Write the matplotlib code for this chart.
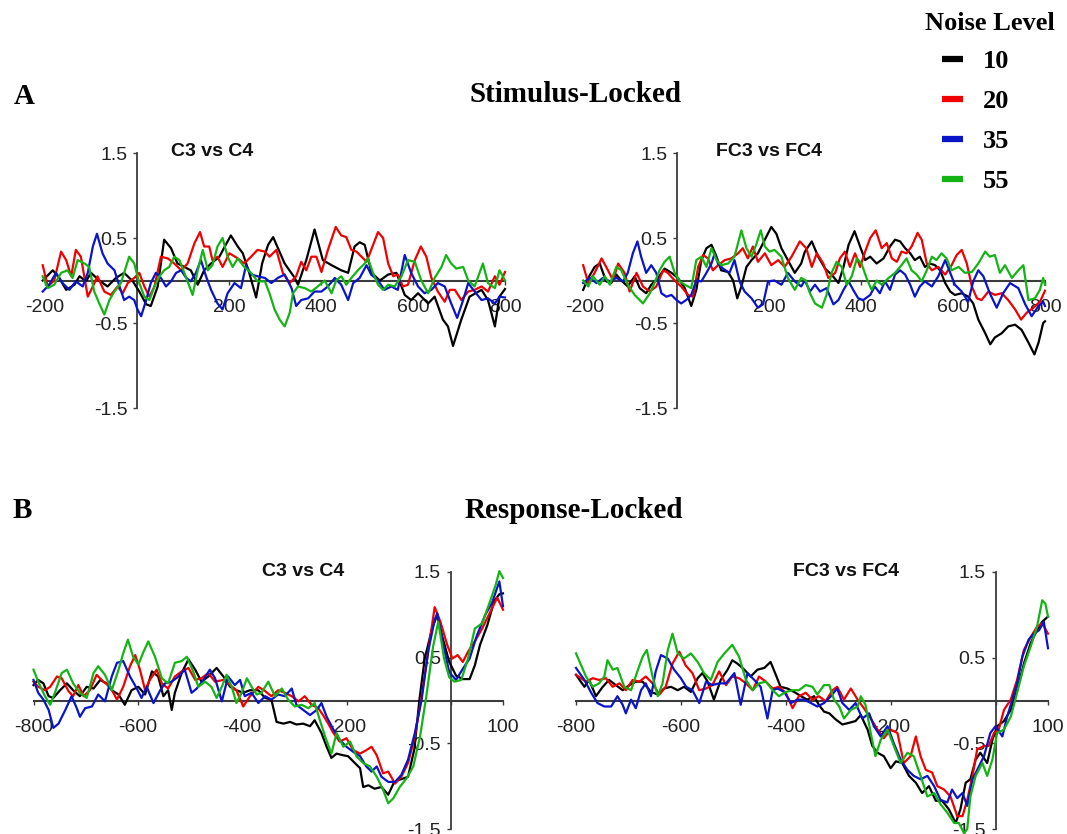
import matplotlib
matplotlib.use("Agg")
import matplotlib.pyplot as plt
from matplotlib.lines import Line2D

plt.rcParams["font.family"] = ["Liberation Sans", "DejaVu Sans"]

levels = ["10", "20", "35", "55"]
colors = ["#000000", "#f00000", "#0a14c8", "#14b414"]

stim_ticks = [-200, 0, 200, 400, 600, 800]
stim_labels = ["-200", "", "200", "400", "600", "800"]
resp_ticks = [-800, -600, -400, -200, 0, 100]
resp_labels = ["-800", "-600", "-400", "-200", "", "100"]
y_ticks = [-1.5, -0.5, 0.5, 1.5]
y_labels = ["-1.5", "-0.5", "0.5", "1.5"]

# ---- A: stimulus-locked, C3 vs C4 (ms, uV) ----
stim_c3_t10 = [-205, -183, -169, -154, -136, -125, -111, -100, -82, -64, -46, -28, -9, 5, 20, 30, 45, 59, 74, 88,
               103, 117, 132, 146, 161, 179, 204, 219, 230, 244, 259, 272, 285, 296, 321, 343, 350, 368, 386, 404,
               423, 444, 459, 473, 484, 495, 510, 528, 546, 564, 582, 596, 611, 633, 647, 665, 676, 687, 705, 723,
               749, 763, 778, 788, 800]
stim_c3_v10 = [0.0, 0.12, 0.03, -0.11, -0.05, 0.05, -0.01, 0.09, 0.0, -0.07, 0.03, 0.09, -0.01, -0.13, -0.28, -0.3,
               -0.07, 0.48, 0.38, 0.2, 0.16, 0.12, -0.05, 0.12, 0.2, 0.28, 0.53, 0.4, 0.32, 0.09, -0.2, 0.2, 0.42,
               0.51, 0.2, 0.03, -0.05, 0.24, 0.6, 0.24, 0.18, 0.12, 0.09, 0.4, 0.45, 0.42, 0.09, 0.0, 0.07, 0.09,
               -0.17, -0.23, -0.15, -0.27, -0.19, -0.46, -0.54, -0.77, -0.46, -0.19, -0.11, -0.23, -0.54, -0.19, -0.1]
stim_c3_t20 = [-205, -194, -180, -165, -154, -143, -133, -122, -107, -96, -86, -71, -57, -42, -31, -20, -6, 5, 16, 27,
               38, 52, 67, 81, 96, 110, 125, 137, 146, 157, 164, 175, 186, 201, 219, 233, 248, 262, 278, 288, 303,
               317, 332, 346, 357, 368, 379, 390, 401, 415, 432, 444, 455, 466, 477, 488, 499, 509, 524, 535, 546,
               557, 567, 578, 589, 604, 617, 629, 640, 654, 669, 680, 691, 705, 720, 734, 749, 763, 778, 788, 800]
stim_c3_v20 = [0.18, -0.07, 0.0, 0.34, 0.24, 0.05, 0.36, 0.28, -0.19, -0.07, 0.05, -0.13, -0.17, -0.07, -0.15, -0.03,
               0.03, 0.09, -0.07, -0.19, -0.07, 0.28, 0.26, 0.2, 0.12, 0.2, 0.44, 0.57, 0.4, 0.4, 0.24, 0.28, 0.16,
               0.32, 0.26, 0.2, 0.28, 0.36, 0.34, 0.28, 0.36, 0.09, -0.03, 0.05, 0.22, 0.12, 0.28, 0.28, 0.1, 0.36,
               0.63, 0.53, 0.51, 0.36, 0.34, 0.28, 0.22, 0.36, 0.57, 0.5, 0.2, 0.05, 0.07, -0.07, -0.05, 0.24, 0.4,
               0.28, 0.03, -0.13, -0.25, -0.11, -0.11, -0.23, -0.13, -0.11, -0.07, -0.13, 0.05, -0.05, 0.1]
stim_c3_t35 = [-205, -191, -176, -162, -147, -133, -118, -107, -96, -87, -75, -64, -49, -38, -28, -17, -6, 1, 9, 20,
               30, 41, 52, 63, 74, 85, 96, 107, 117, 128, 139, 150, 161, 175, 186, 197, 212, 226, 237, 248, 262, 278,
               292, 306, 321, 336, 346, 357, 372, 386, 401, 415, 430, 444, 459, 470, 484, 499, 509, 524, 538, 553,
               567, 582, 596, 611, 625, 640, 654, 669, 683, 696, 709, 720, 734, 749, 763, 778, 788, 800]
stim_c3_v35 = [-0.13, -0.05, 0.09, -0.03, -0.11, -0.01, -0.07, 0.09, 0.4, 0.55, 0.32, 0.2, 0.12, -0.07, -0.23, -0.19,
               -0.23, -0.34, -0.42, -0.23, -0.03, 0.09, 0.03, -0.07, -0.01, 0.09, 0.12, 0.03, -0.01, 0.09, 0.24, 0.05,
               -0.11, -0.27, -0.34, -0.15, -0.03, -0.09, 0.18, 0.07, 0.05, 0.03, -0.03, 0.03, 0.07, -0.09, -0.3,
               -0.23, -0.21, -0.13, -0.13, -0.07, 0.03, -0.05, -0.23, -0.03, 0.03, 0.18, 0.07, 0.0, -0.11, -0.07,
               -0.11, 0.3, 0.09, -0.07, -0.15, -0.11, -0.03, -0.07, -0.27, -0.44, -0.23, -0.03, -0.13, -0.23, -0.21,
               -0.27, -0.19, -0.2]
stim_c3_t55 = [-205, -194, -180, -165, -151, -140, -129, -114, -104, -93, -82, -71, -60, -49, -35, -24, -17, -6, 5, 16,
               27, 38, 49, 59, 70, 81, 92, 103, 114, 121, 132, 143, 154, 164, 175, 186, 197, 208, 219, 233, 248, 262,
               278, 288, 299, 310, 321, 332, 339, 350, 365, 379, 393, 408, 423, 433, 444, 455, 466, 480, 495, 502,
               513, 524, 535, 546, 560, 575, 589, 604, 618, 633, 647, 662, 672, 683, 694, 709, 720, 734, 752, 763,
               778, 788, 800]
stim_c3_v55 = [0.05, -0.09, -0.05, 0.09, 0.12, 0.03, 0.24, 0.2, 0.16, -0.13, -0.27, -0.4, -0.23, -0.13, -0.03, 0.16,
               0.28, 0.2, -0.03, -0.19, -0.23, -0.07, 0.05, 0.12, 0.16, 0.28, 0.24, 0.09, -0.07, -0.17, 0.12, 0.36,
               0.12, 0.18, 0.4, 0.5, 0.28, 0.16, 0.26, 0.16, 0.09, -0.01, -0.01, -0.15, -0.34, -0.46, -0.54, -0.38,
               -0.15, -0.07, -0.09, -0.13, -0.07, 0.0, -0.15, 0.0, 0.05, -0.05, 0.03, 0.12, 0.2, 0.26, 0.09, -0.05,
               -0.11, -0.05, -0.07, 0.05, 0.24, 0.22, 0.0, -0.15, 0.03, 0.16, 0.3, 0.2, 0.14, 0.16, 0.0, -0.07, 0.2,
               -0.03, -0.09, 0.12, 0.0]

# ---- A: stimulus-locked, FC3 vs FC4 ----
stim_fc3_t10 = [-204, -193, -179, -168, -154, -143, -132, -121, -107, -92, -81, -67, -56, -41, -27, -12, 2, 17, 31,
                42, 53, 64, 75, 86, 96, 111, 122, 131, 140, 151, 162, 176, 191, 205, 216, 227, 241, 256, 270, 278,
                293, 307, 322, 336, 351, 362, 373, 386, 398, 409, 420, 434, 449, 463, 474, 485, 496, 507, 517, 528,
                539, 550, 561, 572, 583, 594, 604, 619, 633, 644, 655, 670, 681, 691, 706, 720, 735, 749, 764, 777,
                786, 796, 800]
stim_fc3_v10 = [-0.11, 0.03, 0.16, 0.2, -0.01, -0.03, 0.07, 0.0, -0.07, 0.05, -0.09, -0.15, -0.05, 0.03, 0.14, 0.09,
                0.03, -0.09, -0.3, -0.11, 0.24, 0.38, 0.42, 0.28, 0.12, 0.1, 0.0, -0.21, -0.07, 0.16, 0.24, 0.32,
                0.48, 0.63, 0.55, 0.38, 0.24, 0.09, 0.2, 0.34, 0.46, 0.28, 0.14, 0.07, -0.03, 0.16, 0.42, 0.58, 0.4,
                0.24, 0.28, 0.2, 0.26, 0.4, 0.48, 0.46, 0.38, 0.32, 0.24, 0.28, 0.16, 0.2, 0.18, 0.12, -0.03, -0.13,
                -0.17, -0.15, -0.19, -0.27, -0.46, -0.62, -0.75, -0.67, -0.62, -0.54, -0.52, -0.58, -0.73, -0.87,
                -0.73, -0.5, -0.48]
stim_fc3_t20 = [-204, -193, -179, -164, -150, -139, -128, -114, -103, -88, -74, -59, -45, -30, -20, -5, 9, 24, 35, 46,
                57, 67, 78, 89, 104, 118, 133, 143, 154, 165, 176, 191, 205, 220, 234, 249, 267, 281, 293, 304, 318,
                329, 344, 354, 365, 376, 387, 398, 409, 420, 432, 445, 456, 467, 478, 488, 499, 510, 523, 532, 543,
                554, 568, 583, 597, 608, 619, 630, 641, 652, 662, 677, 691, 706, 720, 735, 748, 760, 775, 789, 800]
stim_fc3_v20 = [0.18, -0.03, 0.09, 0.26, 0.12, 0.0, 0.2, 0.09, -0.13, 0.09, -0.07, -0.13, -0.07, 0.12, 0.09, 0.0,
                -0.07, -0.17, -0.19, 0.16, 0.3, 0.26, 0.12, 0.18, 0.24, 0.26, 0.32, 0.38, 0.26, 0.4, 0.22, 0.32, 0.18,
                0.24, 0.16, 0.28, 0.46, 0.38, 0.16, 0.32, 0.2, 0.03, 0.09, 0.26, 0.34, 0.16, 0.32, 0.16, 0.34, 0.5,
                0.59, 0.38, 0.44, 0.26, 0.22, 0.34, 0.32, 0.4, 0.56, 0.48, 0.2, 0.12, 0.16, 0.07, 0.18, 0.3, 0.36,
                0.2, -0.07, -0.21, -0.23, -0.13, -0.17, -0.15, -0.23, -0.34, -0.46, -0.38, -0.32, -0.25, -0.12]
stim_fc3_t35 = [-204, -190, -175, -161, -146, -132, -117, -107, -96, -86, -78, -67, -56, -45, -34, -23, -12, -1, 9,
                20, 31, 42, 53, 64, 75, 82, 89, 100, 114, 125, 136, 147, 162, 176, 187, 198, 212, 227, 241, 256, 270,
                278, 289, 300, 311, 325, 340, 351, 362, 373, 383, 394, 405, 420, 430, 441, 452, 463, 474, 485, 496,
                507, 517, 528, 539, 554, 568, 583, 594, 604, 619, 633, 644, 655, 666, 680, 695, 709, 724, 742, 757,
                771, 786, 796, 800]
stim_fc3_v35 = [-0.03, 0.03, -0.03, 0.03, -0.01, 0.03, -0.01, 0.09, 0.32, 0.46, 0.28, 0.09, 0.18, 0.09, -0.15, -0.19,
                -0.17, -0.23, -0.27, -0.23, -0.17, 0.0, -0.01, 0.09, 0.2, 0.32, 0.2, 0.14, 0.09, 0.24, -0.01, -0.13,
                -0.21, -0.32, -0.28, -0.01, 0.0, -0.05, 0.09, -0.01, -0.07, 0.0, -0.13, -0.05, -0.13, -0.09, -0.28,
                -0.23, -0.11, -0.01, -0.11, -0.21, -0.23, -0.17, -0.07, -0.15, -0.01, -0.11, 0.07, 0.12, 0.07, -0.05,
                -0.19, -0.07, -0.01, -0.07, 0.05, 0.24, 0.09, -0.05, -0.13, -0.25, -0.01, 0.12, 0.05, -0.15, -0.32,
                -0.15, -0.03, -0.09, -0.28, -0.42, -0.3, -0.25, -0.3]
stim_fc3_t55 = [-204, -193, -183, -168, -157, -146, -132, -121, -107, -92, -74, -59, -49, -38, -27, -16, -5, 6, 17,
                31, 42, 53, 64, 75, 86, 96, 111, 125, 140, 151, 162, 172, 182, 191, 201, 212, 227, 241, 256, 270,
                280, 289, 300, 315, 325, 336, 347, 358, 369, 380, 391, 401, 412, 423, 434, 445, 460, 474, 488, 499,
                510, 521, 532, 543, 554, 564, 575, 586, 597, 612, 626, 641, 655, 670, 680, 691, 702, 713, 728, 742,
                753, 764, 778, 789, 796, 800]
stim_fc3_v55 = [0.0, -0.07, 0.05, -0.05, 0.05, -0.05, 0.16, 0.12, -0.05, -0.17, -0.27, -0.15, -0.03, 0.12, 0.22,
                0.28, 0.09, -0.01, -0.05, -0.09, 0.24, 0.28, 0.16, 0.38, 0.24, 0.18, 0.2, 0.28, 0.59, 0.38, 0.28,
                0.42, 0.59, 0.4, 0.34, 0.36, 0.28, 0.03, -0.11, 0.03, 0.0, -0.15, -0.27, -0.32, -0.17, 0.09, 0.22,
                0.16, -0.05, 0.05, 0.26, 0.2, 0.03, -0.11, 0.0, -0.05, 0.03, 0.09, 0.18, 0.26, 0.12, 0.07, -0.01,
                0.12, 0.28, 0.24, 0.32, 0.26, 0.12, 0.16, 0.09, 0.1, 0.2, 0.34, 0.28, 0.3, 0.09, 0.18, 0.03, 0.12,
                0.18, -0.23, -0.21, -0.11, 0.03, -0.05]

# ---- B: response-locked, C3 vs C4 ----
resp_c3_t10 = [-800, -791, -781, -771, -762, -749, -736, -724, -711, -698, -685, -672, -660, -650, -637, -625, -612,
               -599, -586, -573, -561, -551, -542, -535, -529, -516, -503, -490, -478, -465, -449, -436, -423, -411,
               -398, -385, -369, -356, -344, -334, -321, -308, -296, -283, -270, -261, -248, -238, -229, -219, -206,
               -197, -184, -174, -168, -158, -146, -133, -120, -110, -101, -91, -82, -70, -60, -50, -36, -26, -17,
               -3, 10, 23, 36, 46, 56, 70, 83, 93, 100]
resp_c3_v10 = [0.18, 0.24, 0.2, 0.05, 0.03, 0.12, 0.2, 0.12, 0.05, 0.16, 0.14, 0.24, 0.2, 0.12, 0.07, -0.05, 0.12,
               0.16, 0.07, 0.34, 0.28, 0.05, 0.12, -0.11, 0.09, 0.32, 0.48, 0.36, 0.22, 0.28, 0.38, 0.28, 0.16, 0.12,
               0.09, 0.12, 0.12, 0.03, 0.01, -0.25, -0.27, -0.25, -0.28, -0.27, -0.3, -0.23, -0.38, -0.54, -0.67,
               -0.62, -0.64, -0.65, -0.73, -0.79, -1.01, -0.99, -1.03, -1.01, -1.1, -0.97, -0.93, -0.91, -0.89,
               -0.57, 0.02, 0.49, 0.84, 1.0, 0.76, 0.45, 0.29, 0.25, 0.25, 0.41, 0.65, 0.88, 1.16, 1.24, 1.25]
resp_c3_t20 = [-800, -791, -778, -768, -755, -746, -733, -724, -714, -704, -692, -679, -666, -653, -640, -628, -615,
               -605, -596, -586, -577, -564, -554, -542, -529, -516, -503, -490, -478, -465, -452, -436, -423, -411,
               -398, -385, -369, -356, -344, -331, -318, -305, -292, -280, -267, -254, -245, -235, -225, -213, -200,
               -187, -174, -162, -152, -142, -130, -120, -107, -95, -82, -69, -56, -43, -31, -20, -7, 3, 13, 23, 33,
               46, 60, 76, 89, 100]
resp_c3_v20 = [0.22, 0.16, 0.12, 0.16, 0.28, 0.26, 0.11, 0.05, 0.18, 0.05, 0.12, 0.3, 0.22, 0.16, 0.01, 0.16, 0.4,
               0.53, 0.36, 0.12, 0.24, 0.36, 0.2, 0.14, 0.28, 0.34, 0.38, 0.24, 0.26, 0.32, 0.22, 0.24, 0.18, 0.12,
               -0.07, 0.05, 0.16, 0.11, 0.05, 0.12, 0.09, 0.05, -0.01, 0.05, -0.05, -0.09, -0.17, -0.27, -0.38,
               -0.48, -0.44, -0.58, -0.62, -0.58, -0.54, -0.64, -0.85, -0.83, -0.97, -0.89, -0.73, -0.42, 0.05, 0.59,
               1.09, 0.92, 0.65, 0.49, 0.53, 0.45, 0.57, 0.69, 0.84, 1.04, 1.2, 1.06]
resp_c3_t35 = [-800, -791, -781, -771, -762, -752, -739, -727, -717, -711, -701, -688, -676, -663, -650, -640, -628,
               -615, -602, -593, -583, -570, -557, -548, -535, -522, -510, -497, -487, -474, -462, -452, -439, -427,
               -414, -404, -395, -382, -369, -356, -344, -331, -318, -305, -296, -283, -270, -257, -248, -238, -225,
               -213, -200, -187, -174, -162, -152, -142, -133, -120, -107, -95, -82, -69, -56, -43, -31, -26, -13, -3,
               10, 23, 36, 50, 66, 79, 93, 100]
resp_c3_v35 = [0.24, 0.09, 0.01, -0.11, -0.32, -0.27, -0.11, 0.05, -0.09, -0.19, -0.09, -0.07, 0.07, -0.01, 0.28,
               0.44, 0.46, 0.28, 0.14, 0.03, 0.16, -0.03, 0.12, 0.2, 0.22, 0.28, 0.36, 0.09, 0.14, 0.24, 0.36, 0.26,
               -0.01, 0.28, 0.18, 0.24, 0.05, 0.09, -0.03, 0.05, 0.01, 0.07, 0.05, 0.14, -0.05, -0.11, -0.17, -0.11,
               -0.03, -0.19, -0.34, -0.46, -0.54, -0.6, -0.65, -0.77, -0.83, -0.77, -0.89, -0.95, -0.95, -0.87,
               -0.69, -0.38, 0.01, 0.59, 0.94, 1.02, 0.61, 0.33, 0.24, 0.37, 0.49, 0.76, 1.0, 1.14, 1.39, 1.1]
resp_c3_t55 = [-800, -791, -778, -768, -759, -746, -736, -724, -711, -698, -685, -676, -663, -650, -637, -628, -619,
               -609, -599, -589, -580, -567, -554, -542, -529, -516, -506, -494, -484, -471, -459, -449, -439, -430,
               -420, -411, -401, -391, -382, -372, -363, -350, -337, -324, -312, -299, -286, -273, -261, -251, -241,
               -229, -219, -206, -193, -181, -168, -155, -142, -130, -120, -110, -98, -85, -72, -59, -47, -34, -24,
               -13, -3, 7, 20, 33, 46, 60, 73, 86, 93, 100]
resp_c3_v55 = [0.36, 0.22, 0.05, -0.05, 0.09, 0.32, 0.36, 0.2, 0.09, 0.03, 0.32, 0.4, 0.3, 0.12, 0.36, 0.55, 0.71,
               0.51, 0.42, 0.57, 0.69, 0.51, 0.26, 0.2, 0.44, 0.46, 0.51, 0.34, 0.16, 0.22, 0.16, 0.03, 0.16, 0.3,
               0.16, -0.03, 0.09, 0.26, 0.16, 0.07, 0.09, 0.22, 0.05, 0.14, 0.01, -0.07, -0.05, -0.09, -0.03, -0.23,
               -0.42, -0.62, -0.38, -0.54, -0.48, -0.65, -0.73, -0.77, -0.89, -1.04, -1.2, -1.14, -1.01, -0.91,
               -0.77, -0.42, 0.05, 0.63, 0.92, 0.49, 0.27, 0.22, 0.24, 0.49, 0.84, 0.9, 1.12, 1.35, 1.51, 1.43]

# ---- B: response-locked, FC3 vs FC4 ----
resp_fc3_t10 = [-800, -784, -775, -762, -749, -737, -724, -711, -698, -686, -673, -657, -644, -632, -619, -606, -594,
                -581, -568, -559, -549, -537, -524, -511, -502, -492, -479, -467, -454, -441, -429, -419, -410, -397,
                -384, -371, -359, -346, -337, -327, -317, -305, -292, -279, -267, -257, -244, -235, -225, -213, -200,
                -190, -178, -165, -152, -140, -127, -114, -102, -89, -76, -67, -57, -48, -38, -29, -16, -6, 3, 16, 29,
                41, 54, 67, 79, 89, 100]
resp_fc3_v10 = [0.3, 0.16, 0.24, 0.05, 0.16, 0.24, 0.18, 0.12, 0.18, 0.22, 0.22, 0.1, 0.07, 0.14, 0.16, 0.12, 0.16,
                0.1, 0.26, 0.32, 0.22, 0.01, 0.24, 0.36, 0.47, 0.43, 0.36, 0.28, 0.36, 0.38, 0.45, 0.3, 0.16, 0.14,
                0.1, 0.05, 0.01, 0.05, -0.05, -0.13, -0.15, -0.22, -0.28, -0.26, -0.24, -0.17, -0.34, -0.53, -0.61,
                -0.65, -0.79, -0.71, -0.73, -0.88, -0.96, -1.08, -1.0, -1.17, -1.17, -1.27, -1.43, -1.27, -0.96,
                -0.92, -0.69, -0.61, -0.73, -0.46, -0.3, -0.24, -0.11, 0.12, 0.43, 0.67, 0.82, 0.92, 0.98]
resp_fc3_t20 = [-800, -781, -768, -756, -743, -730, -717, -705, -692, -679, -667, -654, -641, -629, -616, -603, -591,
                -578, -565, -552, -540, -527, -514, -502, -489, -476, -463, -451, -438, -425, -413, -400, -387, -375,
                -362, -349, -337, -324, -311, -302, -289, -276, -263, -251, -238, -225, -213, -200, -187, -175, -162,
                -152, -143, -133, -121, -111, -98, -86, -73, -63, -54, -44, -35, -22, -13, -3, 6, 16, 29, 41, 54, 67,
                79, 89, 100]
resp_fc3_v20 = [0.3, 0.22, 0.26, 0.24, 0.26, 0.16, 0.2, 0.12, 0.24, 0.22, 0.28, 0.2, 0.07, 0.16, 0.43, 0.57, 0.41,
                0.32, 0.12, 0.14, 0.18, 0.34, 0.18, 0.28, 0.26, 0.2, 0.12, 0.28, 0.22, 0.14, 0.16, 0.09, -0.09, 0.05,
                0.09, 0.01, 0.05, -0.01, 0.12, 0.16, 0.01, 0.14, 0.01, -0.09, -0.21, -0.34, -0.44, -0.34, -0.38,
                -0.73, -0.65, -0.42, -0.65, -0.81, -0.84, -1.0, -1.04, -1.12, -1.35, -1.35, -1.16, -0.88, -0.57,
                -0.53, -0.53, -0.38, -0.34, -0.11, 0.01, 0.24, 0.59, 0.74, 0.86, 0.9, 0.78]
resp_fc3_t35 = [-800, -784, -771, -759, -746, -733, -721, -711, -705, -695, -686, -676, -667, -657, -648, -638, -625,
                -613, -600, -590, -578, -565, -552, -540, -527, -514, -498, -486, -473, -460, -448, -435, -425, -416,
                -403, -390, -378, -365, -352, -340, -327, -314, -302, -292, -279, -267, -254, -241, -232, -219, -206,
                -194, -181, -168, -156, -143, -130, -117, -105, -92, -83, -73, -63, -54, -44, -35, -22, -10, 0, 13,
                22, 32, 41, 51, 63, 73, 83, 92, 100]
resp_fc3_v35 = [0.38, 0.24, 0.09, -0.03, -0.07, -0.07, 0.05, -0.05, -0.15, 0.01, -0.09, 0.12, 0.2, 0.05, 0.34, 0.53,
                0.49, 0.36, 0.26, 0.16, 0.12, -0.03, 0.22, 0.18, 0.2, 0.2, 0.32, -0.05, 0.32, 0.24, 0.16, -0.21, 0.12,
                0.14, 0.1, -0.03, 0.01, 0.01, -0.03, -0.07, -0.03, 0.05, 0.14, -0.03, -0.11, -0.03, -0.21, -0.15,
                -0.3, -0.42, -0.3, -0.5, -0.69, -0.81, -0.88, -0.92, -0.88, -1.0, -1.16, -1.19, -1.04, -1.14, -1.08,
                -1.23, -0.92, -0.81, -0.65, -0.38, -0.3, -0.42, -0.19, 0.01, 0.2, 0.51, 0.71, 0.78, 0.82, 0.92, 0.61]
resp_fc3_t55 = [-800, -781, -768, -756, -746, -740, -730, -721, -708, -695, -683, -673, -665, -654, -644, -635, -625,
                -616, -606, -594, -581, -568, -556, -543, -530, -517, -502, -489, -476, -463, -451, -438, -425, -413,
                -400, -387, -375, -362, -349, -340, -327, -317, -308, -298, -289, -276, -263, -257, -248, -238, -229,
                -219, -206, -194, -181, -168, -156, -143, -130, -117, -105, -92, -79, -70, -60, -54, -48, -38, -25,
                -16, -6, 3, 16, 29, 41, 54, 67, 79, 89, 95, 100]
resp_fc3_v55 = [0.55, 0.28, 0.16, 0.2, 0.28, 0.47, 0.36, 0.38, 0.16, 0.12, 0.34, 0.51, 0.59, 0.28, 0.05, 0.2, 0.59,
                0.78, 0.55, 0.49, 0.55, 0.45, 0.32, 0.24, 0.45, 0.55, 0.65, 0.51, 0.24, 0.12, 0.2, 0.22, 0.12, 0.05,
                0.1, 0.12, 0.12, 0.18, 0.16, 0.07, 0.18, 0.18, 0.01, -0.07, -0.21, -0.11, -0.07, 0.05, -0.05, -0.38,
                -0.65, -0.46, -0.34, -0.53, -0.73, -0.61, -0.65, -0.88, -1.12, -1.08, -1.21, -1.31, -1.43, -1.43,
                -1.55, -1.5, -1.12, -0.88, -0.73, -0.88, -0.69, -0.38, -0.34, -0.19, 0.09, 0.4, 0.63, 0.86, 1.17,
                1.13, 0.98]

stim_c3 = [(stim_c3_t10, stim_c3_v10), (stim_c3_t20, stim_c3_v20), (stim_c3_t35, stim_c3_v35), (stim_c3_t55, stim_c3_v55)]
stim_fc3 = [(stim_fc3_t10, stim_fc3_v10), (stim_fc3_t20, stim_fc3_v20), (stim_fc3_t35, stim_fc3_v35), (stim_fc3_t55, stim_fc3_v55)]
resp_c3 = [(resp_c3_t10, resp_c3_v10), (resp_c3_t20, resp_c3_v20), (resp_c3_t35, resp_c3_v35), (resp_c3_t55, resp_c3_v55)]
resp_fc3 = [(resp_fc3_t10, resp_fc3_v10), (resp_fc3_t20, resp_fc3_v20), (resp_fc3_t35, resp_fc3_v35), (resp_fc3_t55, resp_fc3_v55)]

W, H = 1067, 834
fig = plt.figure(figsize=(W / 100, H / 100), dpi=100)


def px_rect(x0, x1, y_top, y_bot):
    # pixel box -> figure fraction rect
    return [x0 / W, 1 - y_bot / H, (x1 - x0) / W, (y_bot - y_top) / H]


panels = [
    (stim_c3, px_rect(45, 505, 153, 408), (-200, 800), stim_ticks, stim_labels, "C3 vs C4", (212, 152)),
    (stim_fc3, px_rect(585, 1045, 153, 408), (-200, 800), stim_ticks, stim_labels, "FC3 vs FC4", (769, 152)),
    (resp_c3, px_rect(33.5, 503, 572, 829), (-800, 100), resp_ticks, resp_labels, "C3 vs C4", (303, 571)),
    (resp_fc3, px_rect(576, 1048, 572, 829), (-800, 100), resp_ticks, resp_labels, "FC3 vs FC4", (846, 572)),
]

axis_col = "#3c3c3c"
for series, rect, xlim, xt, xl, name, (tx, ty) in panels:
    ax = fig.add_axes(rect)
    ax.patch.set_alpha(0)
    for (t, v), c in zip(series, colors):
        ax.plot(t, v, color=c, lw=1.6, zorder=3, clip_on=False)
    ax.set_xlim(*xlim)
    ax.set_ylim(-1.5, 1.5)
    for s in ("top", "right"):
        ax.spines[s].set_visible(False)
    ax.spines["left"].set_position(("data", 0))
    ax.spines["bottom"].set_position(("data", 0))
    ax.spines["left"].set_color(axis_col)
    ax.spines["bottom"].set_color(axis_col)
    ax.spines["left"].set_linewidth(1.3)
    ax.spines["bottom"].set_linewidth(1.5)
    ax.set_xticks(xt)
    ax.set_xticklabels(xl)
    ax.set_yticks(y_ticks)
    ax.set_yticklabels(y_labels)
    ax.tick_params(axis="x", direction="out", length=3, width=1, color=axis_col,
                   labelsize=14, labelcolor="#222222", pad=10)
    ax.tick_params(axis="y", direction="out", length=3, width=1, color=axis_col,
                   labelsize=14, labelcolor="#222222", pad=4)
    fig.text(tx / W, 1 - ty / H, name, ha="center", va="center",
             fontsize=14, fontweight="bold", color="#111111")

serif = ["Liberation Serif", "DejaVu Serif"]
fig.text(24 / W, 1 - 97 / H, "A", ha="center", va="center", family=serif,
         fontsize=21, fontweight="bold")
fig.text(575 / W, 1 - 94 / H, "Stimulus-Locked", ha="center", va="center", family=serif,
         fontsize=21, fontweight="bold")
fig.text(22 / W, 1 - 511 / H, "B", ha="center", va="center", family=serif,
         fontsize=21, fontweight="bold")
fig.text(574 / W, 1 - 510 / H, "Response-Locked", ha="center", va="center", family=serif,
         fontsize=21, fontweight="bold")

fig.text(990 / W, 1 - 23 / H, "Noise Level", ha="center", va="center", family=serif,
         fontsize=19, fontweight="bold")
handles = [Line2D([], [], color=c, lw=4.5, solid_capstyle="butt") for c in colors]
fig.legend(handles, levels, loc="upper left", bbox_to_anchor=(942 / W, 1 - 50 / H),
           frameon=False, borderpad=0, borderaxespad=0, handlelength=0.8,
           handletextpad=0.75, labelspacing=0.62,
           prop={"family": serif, "weight": "bold", "size": 19})

fig.savefig("out.png", dpi=100)
